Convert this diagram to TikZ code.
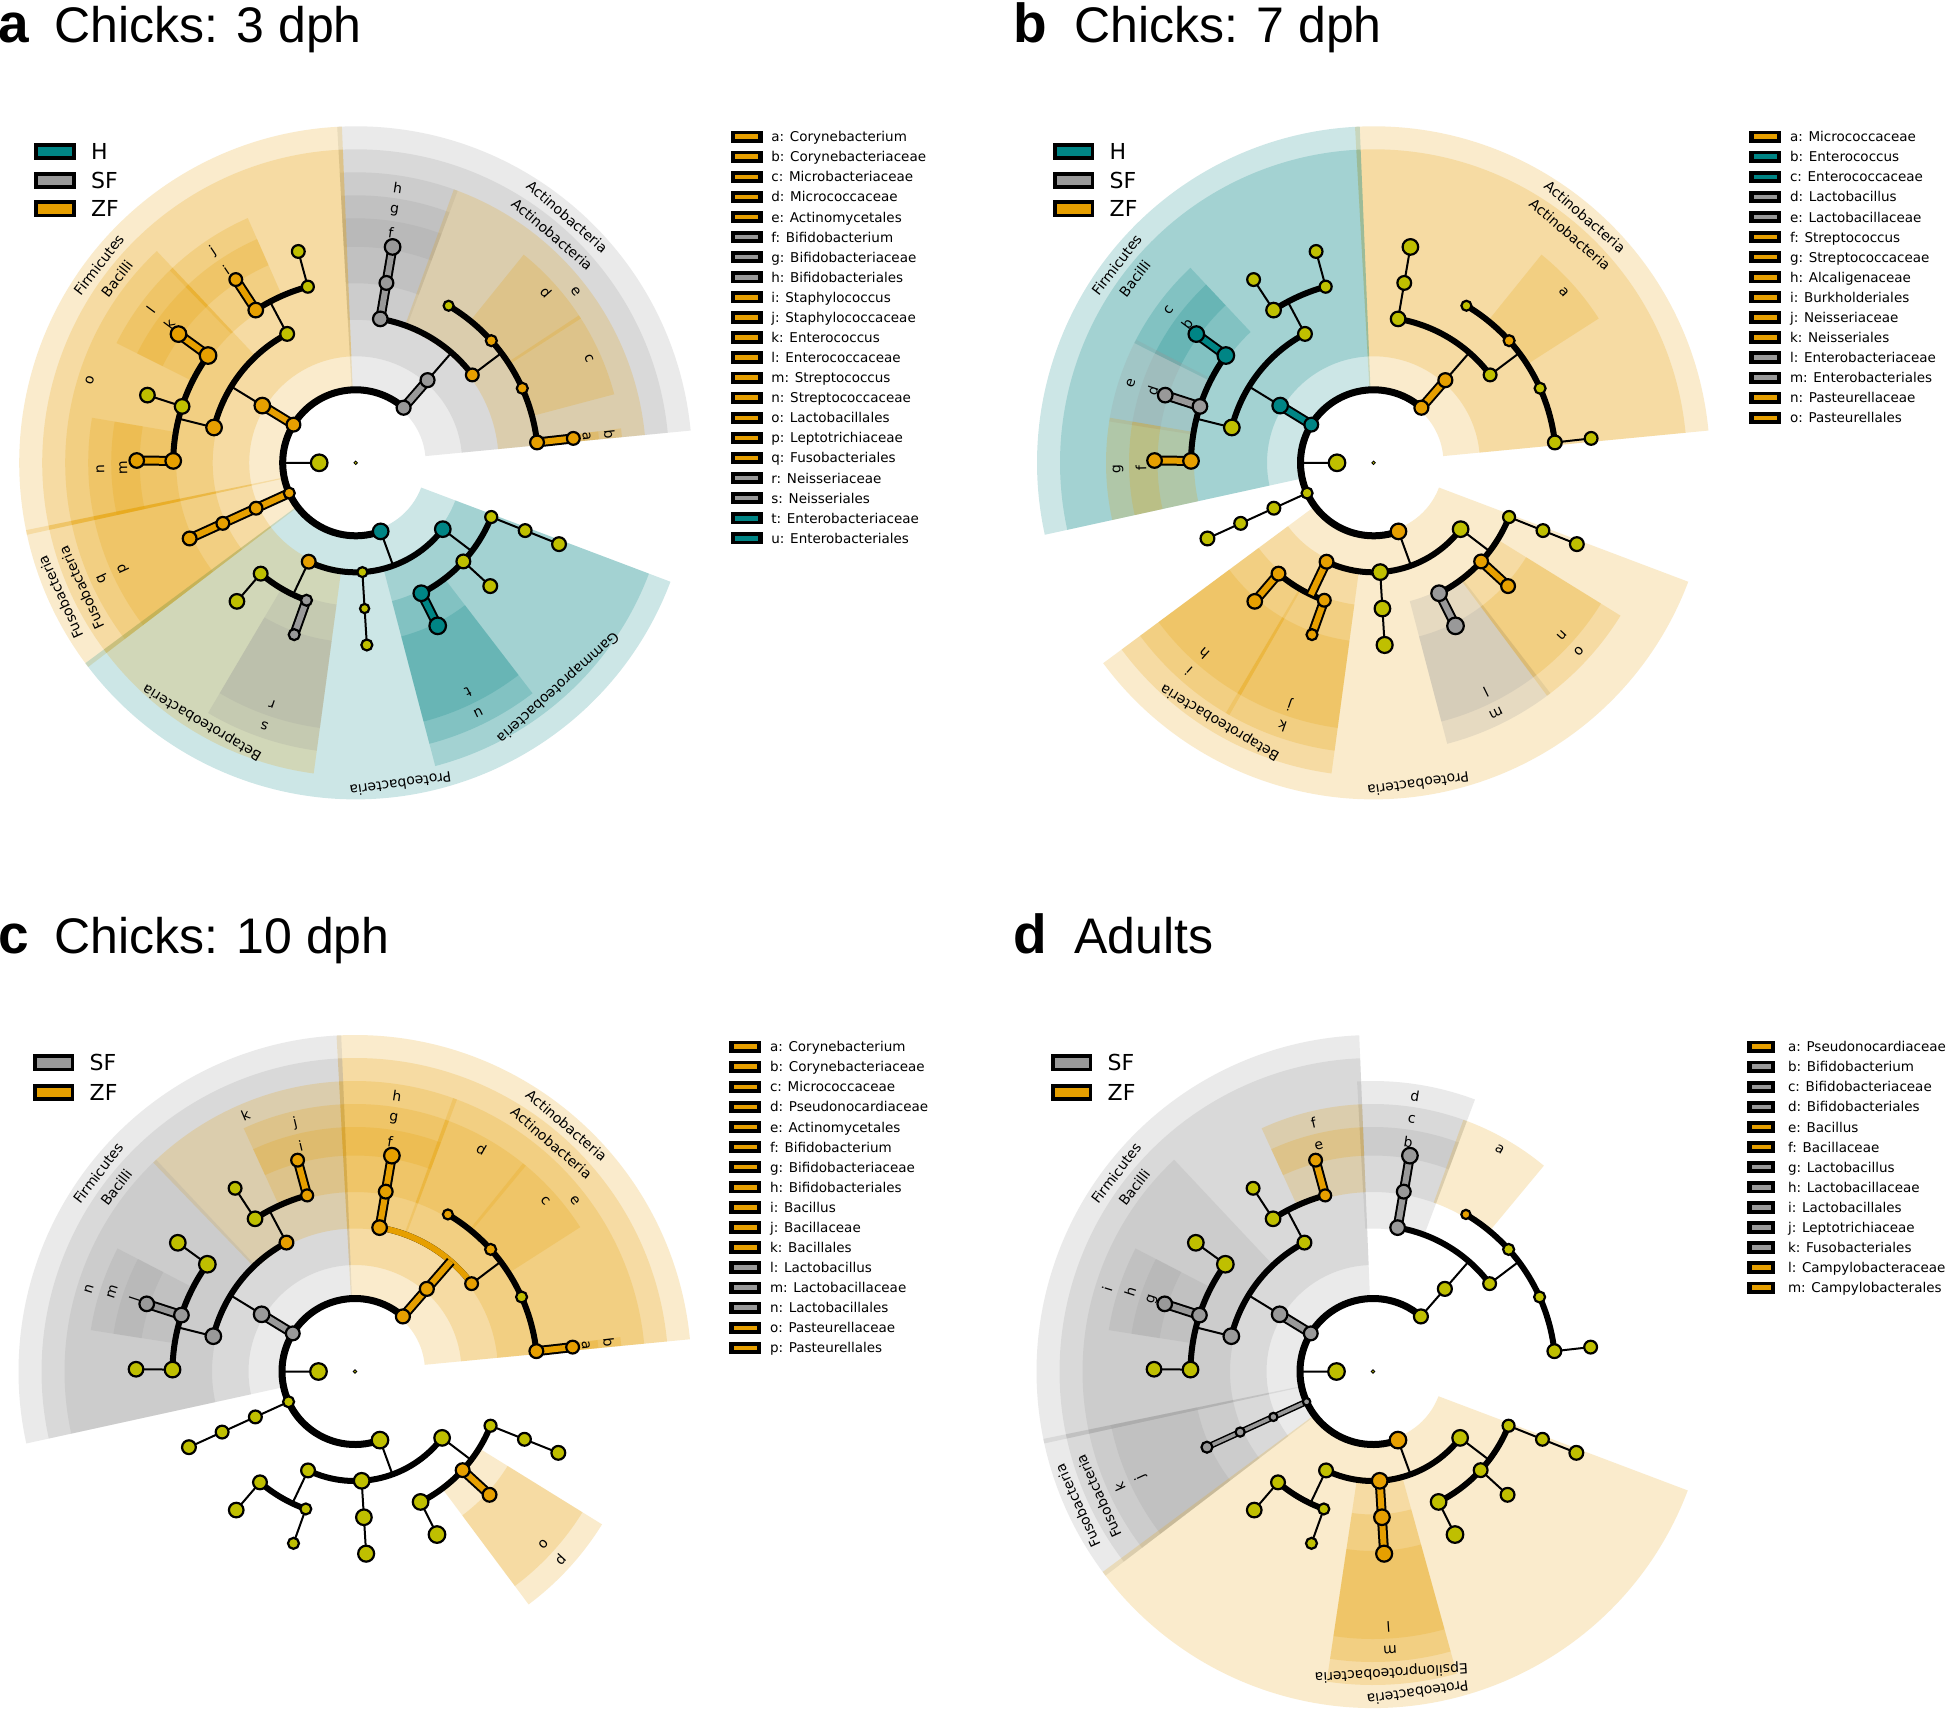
\documentclass[tikz,border=0pt]{standalone}
\usepackage{fontspec}
\setmainfont{DejaVu Sans}
\newfontfamily\helv{Liberation Sans}
\usepackage{graphicx}
\definecolor{cY}{RGB}{191,191,0}
\definecolor{cT}{RGB}{0,133,133}
\definecolor{cG}{RGB}{153,153,153}
\definecolor{cO}{RGB}{230,159,0}
\pgfdeclarelayer{bg}\pgfdeclarelayer{fg}\pgfsetlayers{bg,main,fg}
\tikzset{
 tn/.style={circle, draw=black, line width=2.2pt, inner sep=0pt},
 lab/.style={font=\fontsize{14}{16}\selectfont, inner sep=0pt},
 tline/.style={line width=2pt},
 arcl/.style={line width=6pt},
 ttl/.style={font=\helv\fontsize{50}{50}\selectfont, anchor=base west, inner sep=0pt},
 ttlb/.style={font=\helv\bfseries\fontsize{55}{55}\selectfont, anchor=base west, inner sep=0pt},
 legt/.style={font=\fontsize{13.5}{15}\selectfont, anchor=base west, inner sep=0pt},
 legbox/.style={draw=black, line width=3.7pt, minimum width=37.6pt, minimum height=13.3pt, inner sep=0pt},
 legtt/.style={font=\fontsize{22}{22}\selectfont, anchor=west, inner sep=0pt},
}
\newcounter{lbl}
\newcommand\clade[5]{%
 \pgfmathsetmacro\rin{36.5*(#1+1)-3}%
 \pgfmathsetmacro\rout{336.5-23*(#1-1)}%
 \pgfmathsetmacro\sa{#2-0.4}%
 \pgfmathsetmacro\ea{#3+0.4}%
 \pgfmathsetmacro\ma{(#2+#3)/2}%
 \pgfmathsetmacro\rl{\rout-12}%
 \fill[#4, fill opacity=0.2] (\sa:\rin) arc[start angle=\sa, end angle=\ea, radius=\rin] -- (\ea:\rout) arc[start angle=\ea, end angle=\sa, radius=\rout] -- cycle;
 \stepcounter{lbl}%
 \node[lab, rotate={\ma-90}] (lbl\thelbl) at (\ma:\rl) {#5};
}
\makeatletter
\newcommand\setc[2]{\expandafter\xdef\csname col@#1\endcsname{#2}}
\newcommand\sets[2]{\expandafter\xdef\csname siz@#1\endcsname{#2}}
\newcommand\setcs[2]{\foreach \x/\y in {#2}{\setc{#1\x}{\y}}}
\newcommand\setss[2]{\foreach \x/\y in {#2}{\sets{#1\x}{\y}}}
\newcommand\drawnodes[1]{%
 \foreach \nm/\ang/\lev/\sz in {K/180/0/8.3, Pact/49/1/7, Cact/49/2/7, Obif/80.3/3/7.3, Fbif/80.3/4/6.9, Gbif/80.3/5/7.8, Oactm/37/3/6.4, Fpse/59.4/4/5, Fmic/42/4/5.5, Fmib/24.1/4/5.5, Fcor/6.4/4/6.9, Gcor/6.4/5/6.4, Pfir/148.5/1/6.9, Cbac/148.5/2/7.8, Obacl/118/3/6.9, Olac/166/3/7.8, Fbaci/105.2/4/6, Gbaci/105.2/5/6.4, Fsta/123.2/4/7.3, Gsta/123.2/5/6.4, Fent/144/4/8.3, Gent/144/5/7.8, Flacf/162/4/7.3, Glac/162/5/7.3, Fstr/179.4/4/7.8, Gstr/179.4/5/7.3, Pfus/204.5/1/5.5, Cfus/204.5/2/6.4, Ofus/204.5/3/6.4, Flep/204.5/4/6.9, Ppro/290/1/7.8, Cbeta/244.6/2/6.9, Ceps/273.5/2/5, Cgam/322.7/2/7.8, Oburk/229.4/3/6.9, Falc/229.4/4/7.3, Oneis/250.3/3/5.5, Fnei/250.3/4/5.5, Ocamp/273.5/3/4.6, Fcamp/273.5/4/5.5, Oent/296.7/3/7.8, Fentb/296.7/4/8.3, Opast/317.5/3/6.9, Fpast/317.5/4/6.9, Opse/338.2/3/6, Fmor/338.2/4/6.4, Gacin/338.2/5/6.9}{%
  \@ifundefined{col@#1\nm}{\def\cc{cY}}{\edef\cc{\csname col@#1\nm\endcsname}}%
  \@ifundefined{siz@#1\nm}{\let\ssz\sz}{\edef\ssz{\csname siz@#1\nm\endcsname}}%
  \node[tn, fill=\cc, minimum size={2*\ssz*1pt}] (#1\nm) at ({\ang}:{36.5*(\lev+1)}) {};
 }%
}
\makeatother
\newcommand\cbar[3]{\draw[line width=10pt] #1 -- #2; \draw[line width=6pt, #3] #1 -- #2;}
\newcommand\cbarthin[3]{\draw[line width=6.5pt] #1 -- #2; \draw[line width=3.5pt, #3] #1 -- #2;}
\newcommand\cladetree{%
\draw[tline]
 (180:36.5)--(180:73)
 (49:73)--(49:146)
 (80.3:146)--(80.3:219)
 (37:146)--(37:182.5)
 (6.4:182.5)--(6.4:219)
 (148.5:73)--(148.5:146)
 (166:146)--(166:182.5)
 (144:182.5)--(144:219)
 (162:182.5)--(162:219)
 (179.4:182.5)--(179.4:219)
 (118:146)--(118:182.5)
 (123.2:182.5)--(123.2:219)
 (105.2:182.5)--(105.2:219)
 (204.5:73)--(204.5:182.5)
 (290:73)--(290:109.5)
 (244.6:109.5)--(244.6:146)
 (229.4:146)--(229.4:182.5)
 (250.3:146)--(250.3:182.5)
 (273.5:109.5)--(273.5:182.5)
 (322.7:109.5)--(322.7:146)
 (296.7:146)--(296.7:182.5)
 (317.5:146)--(317.5:182.5)
 (338.2:146)--(338.2:219);
\draw[line width=7pt] (49:73) arc[start angle=49,end angle=290,radius=73];
\draw[arcl]
 (37:146) arc[start angle=37,end angle=80.3,radius=146]
 (6.4:182.5) arc[start angle=6.4,end angle=59.4,radius=182.5]
 (118:146) arc[start angle=118,end angle=166,radius=146]
 (144:182.5) arc[start angle=144,end angle=179.4,radius=182.5]
 (105.2:182.5) arc[start angle=105.2,end angle=123.2,radius=182.5]
 (244.6:109.5) arc[start angle=244.6,end angle=322.7,radius=109.5]
 (229.4:146) arc[start angle=229.4,end angle=250.3,radius=146]
 (296.7:146) arc[start angle=296.7,end angle=338.2,radius=146];
}
\newcommand\leglist[5]{%
 \foreach \lgc/\lgt [count=\lgi from 0] in {#5}{%
   \pgfmathsetmacro\yy{-(#3+20.08*\lgi)}%
   \node[fill=black, minimum width={#4*1pt}, minimum height=12.3pt, inner sep=0pt] (#1\lgi) at ({#2+#4/2},\yy) {};
   \fill[\lgc] ({#2+4.5},{\yy-2.3}) rectangle ({#2+#4-4.5},{\yy+2.3});
   \node[legt] (#1t\lgi) at ({#2+40.5},{\yy-5}) {\lgt};
 }}
\newcommand\smleg[5]{%
 \node[legbox, fill=#3] (#5) at ({#1+20.65},{-(#2)}) {};
 \node[legtt] (#5t) at ({#1+56.5},{-(#2)}) {#4};}
\begin{document}
\begin{tikzpicture}[x=1pt,y=1pt]
\useasboundingbox (0,0) rectangle (1946,-1711);
\begin{pgfonlayer}{bg}
\fill[white] (0,0) rectangle (1946,-1711);
\end{pgfonlayer}
% ---------- titles
\node[ttlb] (tA) at (-2,-42) {a};
\node[ttl] (tA2) at (54,-42) {Chicks: 3 dph};
\node[ttlb] (tB) at (1013,-42) {b};
\node[ttl] (tB2) at (1074,-42) {Chicks: 7 dph};
\node[ttlb] (tC) at (-2,-953) {c};
\node[ttl] (tC2) at (54,-953) {Chicks: 10 dph};
\node[ttlb] (tD) at (1013,-953) {d};
\node[ttl] (tD2) at (1074,-953) {Adults};
% ---------- small legends
\smleg{34.4}{151.4}{cT}{H}{aH}
\smleg{34.4}{180.3}{cG}{SF}{aSF}
\smleg{34.4}{208.8}{cO}{ZF}{aZF}
\smleg{1053}{151.4}{cT}{H}{bH}
\smleg{1053}{180.3}{cG}{SF}{bSF}
\smleg{1053}{208.8}{cO}{ZF}{bZF}
\smleg{33}{1062.8}{cG}{SF}{cSF}
\smleg{33}{1092.6}{cO}{ZF}{cZF}
\smleg{1051}{1062.8}{cG}{SF}{dSF}
\smleg{1051}{1092.6}{cO}{ZF}{dZF}
% ---------- legend lists
\leglist{la}{730.7}{136.7}{32}{cO/a: Corynebacterium, cO/b: Corynebacteriaceae, cO/c: Microbacteriaceae, cO/d: Micrococcaceae, cO/e: Actinomycetales, cG/f: Bifidobacterium, cG/g: Bifidobacteriaceae, cG/h: Bifidobacteriales, cO/i: Staphylococcus, cO/j: Staphylococcaceae, cO/k: Enterococcus, cO/l: Enterococcaceae, cO/m: Streptococcus, cO/n: Streptococcaceae, cO/o: Lactobacillales, cO/p: Leptotrichiaceae, cO/q: Fusobacteriales, cG/r: Neisseriaceae, cG/s: Neisseriales, cT/t: Enterobacteriaceae, cT/u: Enterobacteriales}
\leglist{lb}{1749.3}{136.7}{32}{cO/a: Micrococcaceae, cT/b: Enterococcus, cT/c: Enterococcaceae, cG/d: Lactobacillus, cG/e: Lactobacillaceae, cO/f: Streptococcus, cO/g: Streptococcaceae, cO/h: Alcaligenaceae, cO/i: Burkholderiales, cO/j: Neisseriaceae, cO/k: Neisseriales, cG/l: Enterobacteriaceae, cG/m: Enterobacteriales, cO/n: Pasteurellaceae, cO/o: Pasteurellales}
\leglist{lc}{729.3}{1046.7}{32}{cO/a: Corynebacterium, cO/b: Corynebacteriaceae, cO/c: Micrococcaceae, cO/d: Pseudonocardiaceae, cO/e: Actinomycetales, cO/f: Bifidobacterium, cO/g: Bifidobacteriaceae, cO/h: Bifidobacteriales, cO/i: Bacillus, cO/j: Bacillaceae, cO/k: Bacillales, cG/l: Lactobacillus, cG/m: Lactobacillaceae, cG/n: Lactobacillales, cO/o: Pasteurellaceae, cO/p: Pasteurellales}
\leglist{ld}{1747.3}{1046.7}{28}{cO/a: Pseudonocardiaceae, cG/b: Bifidobacterium, cG/c: Bifidobacteriaceae, cG/d: Bifidobacteriales, cO/e: Bacillus, cO/f: Bacillaceae, cG/g: Lactobacillus, cG/h: Lactobacillaceae, cG/i: Lactobacillales, cG/j: Leptotrichiaceae, cG/k: Fusobacteriales, cO/l: Campylobacteraceae, cO/m: Campylobacterales}
% ================= PANEL A
\begin{scope}[shift={(355.7,-462.8)}]
\setcs{a}{Pact/cG, Cact/cG, Obif/cG, Fbif/cG, Gbif/cG, Oactm/cO, Fmic/cO, Fmib/cO, Fcor/cO, Gcor/cO, Pfir/cO, Cbac/cO, Olac/cO, Fent/cO, Gent/cO, Fstr/cO, Gstr/cO, Fsta/cO, Gsta/cO, Pfus/cO, Cfus/cO, Ofus/cO, Flep/cO, Ppro/cT, Cbeta/cO, Oneis/cG, Fnei/cG, Cgam/cT, Oent/cT, Fentb/cT}
\begin{pgfonlayer}{fg}\drawnodes{a}\node[tn, fill=cY, minimum size=3.5pt, line width=0.8pt] (aroot) at (0,0) {};\end{pgfonlayer}
\begin{pgfonlayer}{bg}
\clade{1}{5.9}{92.75}{cG}{Actinobacteria}
\clade{2}{5.9}{92.75}{cG}{Actinobacteria}
\clade{3}{69.85}{92.75}{cG}{h}
\clade{4}{69.85}{92.75}{cG}{g}
\clade{5}{69.85}{92.75}{cG}{f}
\clade{3}{5.9}{69.85}{cO}{e}
\clade{4}{33.05}{50.7}{cO}{d}
\clade{4}{15.25}{33.05}{cO}{c}
\clade{4}{5.9}{7.0}{cO}{b}
\clade{5}{5.9}{7.0}{cO}{a}
\clade{1}{92.75}{191.95}{cO}{Firmicutes}
\clade{2}{92.75}{191.95}{cO}{Bacilli}
\clade{3}{133.6}{191.95}{cO}{o}
\clade{4}{133.6}{153}{cO}{l}
\clade{5}{133.6}{153}{cO}{k}
\clade{4}{170.7}{191.95}{cO}{n}
\clade{5}{170.7}{191.95}{cO}{m}
\clade{4}{114.2}{133.6}{cO}{j}
\clade{5}{114.2}{133.6}{cO}{i}
\clade{1}{191.95}{216.95}{cO}{Fusobacteria}
\clade{2}{191.95}{216.95}{cO}{Fusobacteria}
\clade{3}{191.95}{216.95}{cO}{q}
\clade{4}{191.95}{216.95}{cO}{p}
\clade{1}{216.95}{338.9}{cT}{Proteobacteria}
\clade{2}{216.95}{261.9}{cO}{Betaproteobacteria}
\clade{3}{239.85}{261.9}{cG}{s}
\clade{4}{239.85}{261.9}{cG}{r}
\clade{2}{285.1}{338.9}{cT}{Gammaproteobacteria}
\clade{3}{285.1}{307.1}{cT}{u}
\clade{4}{285.1}{307.1}{cT}{t}
\end{pgfonlayer}
\cladetree
\cbar{(aPact.center)}{(aCact.center)}{cG}
\cbar{(aObif.center)}{(aGbif.center)}{cG}
\cbar{(aFcor.center)}{(aGcor.center)}{cO}
\cbar{(aPfir.center)}{(aCbac.center)}{cO}
\cbar{(aFent.center)}{(aGent.center)}{cO}
\cbar{(aFstr.center)}{(aGstr.center)}{cO}
\cbar{(aFsta.center)}{(aGsta.center)}{cO}
\cbar{(aPfus.center)}{(aFlep.center)}{cO}
\cbar{(aOneis.center)}{(aFnei.center)}{cG}
\cbar{(aOent.center)}{(aFentb.center)}{cT}
\end{scope}
% ================= PANEL B
\begin{scope}[shift={(1373.5,-462.8)}]
\setcs{b}{Pact/cO, Cact/cO, Fmic/cO, Pfir/cT, Cbac/cT, Fent/cT, Gent/cT, Flacf/cG, Glac/cG, Fstr/cO, Gstr/cO, Ppro/cO, Cbeta/cO, Oburk/cO, Falc/cO, Oneis/cO, Fnei/cO, Oent/cG, Fentb/cG, Opast/cO, Fpast/cO}
\setss{b}{Ceps/7.8, Ocamp/7.8, Fcamp/8, Oneis/6.4}
\begin{pgfonlayer}{fg}\drawnodes{b}\node[tn, fill=cY, minimum size=3.5pt, line width=0.8pt] (broot) at (0,0) {};\end{pgfonlayer}
\begin{pgfonlayer}{bg}
\clade{1}{5.9}{92.75}{cO}{Actinobacteria}
\clade{2}{5.9}{92.75}{cO}{Actinobacteria}
\clade{4}{33.05}{50.7}{cO}{a}
\clade{1}{92.75}{191.95}{cT}{Firmicutes}
\clade{2}{92.75}{191.95}{cT}{Bacilli}
\clade{4}{133.6}{153}{cT}{c}
\clade{5}{133.6}{153}{cT}{b}
\clade{4}{153}{170.7}{cG}{e}
\clade{5}{153}{170.7}{cG}{d}
\clade{4}{170.7}{191.95}{cO}{g}
\clade{5}{170.7}{191.95}{cO}{f}
\clade{1}{216.95}{338.9}{cO}{Proteobacteria}
\clade{2}{216.95}{261.9}{cO}{Betaproteobacteria}
\clade{3}{216.95}{239.85}{cO}{i}
\clade{4}{216.95}{239.85}{cO}{h}
\clade{3}{239.85}{261.9}{cO}{k}
\clade{4}{239.85}{261.9}{cO}{j}
\clade{3}{285.1}{307.1}{cG}{m}
\clade{4}{285.1}{307.1}{cG}{l}
\clade{3}{307.1}{327.85}{cO}{o}
\clade{4}{307.1}{327.85}{cO}{n}
\end{pgfonlayer}
\cladetree
\cbar{(bPact.center)}{(bCact.center)}{cO}
\cbar{(bPfir.center)}{(bCbac.center)}{cT}
\cbar{(bFent.center)}{(bGent.center)}{cT}
\cbar{(bFlacf.center)}{(bGlac.center)}{cG}
\cbar{(bFstr.center)}{(bGstr.center)}{cO}
\cbar{(bCbeta.center)}{(244.6:146)}{cO}
\cbar{(bOburk.center)}{(bFalc.center)}{cO}
\cbar{(bOneis.center)}{(bFnei.center)}{cO}
\cbar{(bOent.center)}{(bFentb.center)}{cG}
\cbar{(bOpast.center)}{(bFpast.center)}{cO}
\end{scope}
% ================= PANEL C
\begin{scope}[shift={(355,-1371.5)}]
\setcs{c}{Pact/cO, Cact/cO, Obif/cO, Fbif/cO, Gbif/cO, Oactm/cO, Fpse/cO, Fmic/cO, Fcor/cO, Gcor/cO, Pfir/cG, Cbac/cG, Olac/cG, Obacl/cO, Fbaci/cO, Gbaci/cO, Flacf/cG, Glac/cG, Opast/cO, Fpast/cO}
\setss{c}{Ceps/7.8, Ocamp/7.8, Fcamp/8, Ppro/8.3}
\begin{pgfonlayer}{fg}\drawnodes{c}\node[tn, fill=cY, minimum size=3.5pt, line width=0.8pt] (croot) at (0,0) {};\end{pgfonlayer}
\begin{pgfonlayer}{bg}
\clade{1}{5.9}{92.75}{cO}{Actinobacteria}
\clade{2}{5.9}{92.75}{cO}{Actinobacteria}
\clade{3}{69.85}{92.75}{cO}{h}
\clade{4}{69.85}{92.75}{cO}{g}
\clade{5}{69.85}{92.75}{cO}{f}
\clade{3}{5.9}{69.85}{cO}{e}
\clade{4}{50.7}{69.85}{cO}{d}
\clade{4}{33.05}{50.7}{cO}{c}
\clade{4}{5.9}{7.0}{cO}{b}
\clade{5}{5.9}{7.0}{cO}{a}
\clade{1}{92.75}{191.95}{cG}{Firmicutes}
\clade{2}{92.75}{191.95}{cG}{Bacilli}
\clade{3}{92.75}{133.6}{cO}{k}
\clade{4}{92.75}{114.2}{cO}{j}
\clade{5}{92.75}{114.2}{cO}{i}
\clade{3}{133.6}{191.95}{cG}{n}
\clade{4}{153}{170.7}{cG}{m}
\clade{5}{153}{170.7}{cG}{l}
\clade{3}{307.1}{327.85}{cO}{p}
\clade{4}{307.1}{327.85}{cO}{o}
\end{pgfonlayer}
\cladetree
\draw[arcl, cO] (37:146) arc[start angle=37,end angle=80.3,radius=146];
\cbar{(cPact.center)}{(cCact.center)}{cO}
\cbar{(cCact.center)}{(49:146)}{cO}
\cbar{(cObif.center)}{(cGbif.center)}{cO}
\cbar{(cFcor.center)}{(cGcor.center)}{cO}
\cbar{(cPfir.center)}{(cCbac.center)}{cG}
\cbar{(cFlacf.center)}{(cGlac.center)}{cG}
\cbar{(cFbaci.center)}{(cGbaci.center)}{cO}
\cbar{(cOpast.center)}{(cFpast.center)}{cO}
\end{scope}
% ================= PANEL D
\begin{scope}[shift={(1373,-1371.5)}]
\setcs{d}{Obif/cG, Fbif/cG, Gbif/cG, Fpse/cO, Pfir/cG, Cbac/cG, Olac/cG, Flacf/cG, Glac/cG, Fbaci/cO, Gbaci/cO, Pfus/cG, Cfus/cG, Ofus/cG, Flep/cG, Ppro/cO, Ceps/cO, Ocamp/cO, Fcamp/cO}
\setss{d}{Ceps/7.8, Ocamp/7.8, Fcamp/8, Fpse/4.6, Pfus/3.7, Cfus/4.1, Ofus/4.6, Flep/5.5, Ppro/8.3}
\begin{pgfonlayer}{fg}\drawnodes{d}\node[tn, fill=cY, minimum size=3.5pt, line width=0.8pt] (droot) at (0,0) {};\end{pgfonlayer}
\begin{pgfonlayer}{bg}
\clade{3}{69.85}{92.75}{cG}{d}
\clade{4}{69.85}{92.75}{cG}{c}
\clade{5}{69.85}{92.75}{cG}{b}
\clade{4}{50.7}{69.85}{cO}{a}
\clade{1}{92.75}{191.95}{cG}{Firmicutes}
\clade{2}{92.75}{191.95}{cG}{Bacilli}
\clade{3}{133.6}{191.95}{cG}{i}
\clade{4}{153}{170.7}{cG}{h}
\clade{5}{153}{170.7}{cG}{g}
\clade{4}{92.75}{114.2}{cO}{f}
\clade{5}{92.75}{114.2}{cO}{e}
\clade{1}{191.95}{216.95}{cG}{Fusobacteria}
\clade{2}{191.95}{216.95}{cG}{Fusobacteria}
\clade{3}{191.95}{216.95}{cG}{k}
\clade{4}{191.95}{216.95}{cG}{j}
\clade{1}{216.95}{338.9}{cO}{Proteobacteria}
\clade{2}{261.9}{285.1}{cO}{Epsilonproteobacteria}
\clade{3}{261.9}{285.1}{cO}{m}
\clade{4}{261.9}{285.1}{cO}{l}
\end{pgfonlayer}
\cladetree
\cbar{(dObif.center)}{(dGbif.center)}{cG}
\cbar{(dPfir.center)}{(dCbac.center)}{cG}
\cbar{(dFlacf.center)}{(dGlac.center)}{cG}
\cbar{(dFbaci.center)}{(dGbaci.center)}{cO}
\cbarthin{(dPfus.center)}{(dFlep.center)}{cG}
\cbar{(dCeps.center)}{(dFcamp.center)}{cO}
\end{scope}
\end{tikzpicture}
\end{document}
